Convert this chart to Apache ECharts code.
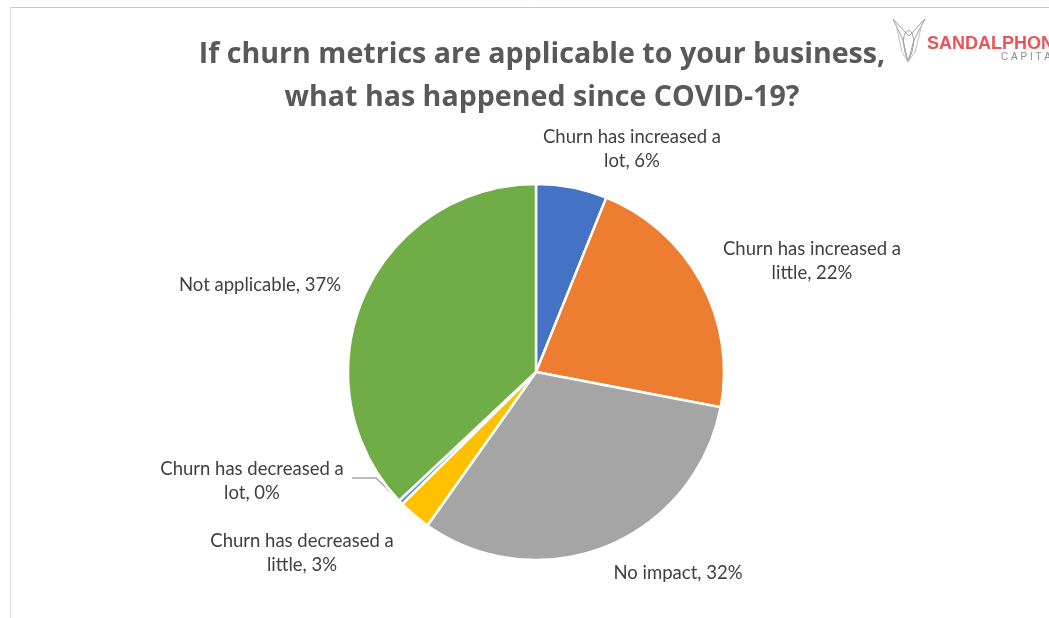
<!DOCTYPE html>
<html>
<head>
<meta charset="utf-8">
<script src="https://cdn.jsdelivr.net/npm/echarts@6/dist/echarts.min.js"></script>
<style>
  html, body { margin: 0; padding: 0; background: #ffffff; }
  #chart { width: 1049px; height: 618px; }
</style>
</head>
<body>
<div id="chart"></div>
<script>
// Survey answers, clockwise from 12 o'clock
var categories = [
  'Churn has increased a lot',
  'Churn has increased a little',
  'No impact',
  'Churn has decreased a little',
  'Churn has decreased a lot',
  'Not applicable'
];
// Share of respondents, percent
var shares = [6.1, 21.9, 31.8, 2.8, 0.4, 37.0];
var sliceColors = ['#4472C4', '#ED7D31', '#A5A5A5', '#FFC000', '#5B9BD5', '#70AD47'];

var titleLines = [
  'If churn metrics are applicable to your business,',
  'what has happened since COVID-19?'
];

// Label placement around the pie: [x, y, align]
var labelSpots = [
  [632, 149, 'center'],
  [812, 261, 'center'],
  [678, 573, 'center'],
  [302, 553, 'center'],
  [252, 481, 'center'],
  [260, 285, 'center']
];

function wrapLabel(name) {
  var m = name.match(/^(Churn has \w+ a) (.*)$/);
  return m ? m[1] + '\n' + m[2] : name;
}

var chart = echarts.init(document.getElementById('chart'), null, { renderer: 'canvas' });

var seriesData = categories.map(function (c, i) {
  var item = { name: c, value: shares[i], itemStyle: { color: sliceColors[i] } };
  if (i === 4) {
    item.labelLine = { show: true, lineStyle: { color: '#A6A6A6', width: 1.5 } };
  }
  return item;
});

var markStroke = { stroke: '#A0A0A0', lineWidth: 1, fill: null };

var option = {
  backgroundColor: '#ffffff',
  animation: false,
  title: {
    text: titleLines.join('\n'),
    left: 537,
    top: 28,
    textAlign: 'center',
    textStyle: {
      fontFamily: 'Open Sans',
      fontWeight: 'bold',
      fontSize: 28.6,
      color: '#595959',
      lineHeight: 43
    }
  },
  graphic: [
    // frame edges
    { type: 'line', shape: { x1: 10, y1: 7.5, x2: 1049, y2: 7.5 }, style: { stroke: '#C8C8C8', lineWidth: 1 } },
    { type: 'line', shape: { x1: 10.5, y1: 7, x2: 10.5, y2: 618 }, style: { stroke: '#E2E2E2', lineWidth: 1 } },
    // brand mark
    { type: 'polyline', shape: { points: [[893, 19], [903, 40], [908, 62], [914, 40], [925, 19]] }, style: markStroke },
    { type: 'polyline', shape: { points: [[893, 19], [909, 36], [925, 19]] }, style: markStroke },
    { type: 'polyline', shape: { points: [[903, 40], [905, 33], [909, 30], [912, 33], [914, 40], [912, 52], [908, 62], [905, 52], [903, 40]] }, style: markStroke },
    { type: 'polyline', shape: { points: [[896, 24], [902, 52], [908, 62], [915, 52], [922, 24]] }, style: { stroke: '#C0C0C0', lineWidth: 1, fill: null } },
    { type: 'text', style: { x: 927, y: 44, text: 'SANDALPHON', fill: '#E8545A', font: 'bold 18px "Liberation Sans"', textVerticalAlign: 'middle' } },
    { type: 'text', style: { x: 1001, y: 57, text: 'C A P I T A L', fill: '#8C8C8C', font: '10px "Liberation Sans"', textVerticalAlign: 'middle' } }
  ],
  series: [{
    type: 'pie',
    center: [536, 372],
    radius: 188,
    startAngle: 90,
    clockwise: true,
    avoidLabelOverlap: false,
    data: seriesData,
    itemStyle: { borderColor: '#ffffff', borderWidth: 2.5 },
    label: {
      show: true,
      position: 'outside',
      fontFamily: 'Lato',
      fontSize: 18.5,
      lineHeight: 24,
      color: '#404040',
      align: 'center',
      formatter: function (p) {
        return wrapLabel(p.name) + ', ' + Math.round(p.value) + '%';
      }
    },
    labelLine: { show: false },
    labelLayout: function (params) {
      var s = labelSpots[params.dataIndex];
      var out = { x: s[0], y: s[1], align: s[2], verticalAlign: 'middle', hideOverlap: false, moveOverlap: false };
      if (params.dataIndex === 4) {
        out.labelLinePoints = [[399, 500], [376, 478], [352, 478]];
      }
      return out;
    }
  }]
};

chart.setOption(option);
</script>
</body>
</html>
